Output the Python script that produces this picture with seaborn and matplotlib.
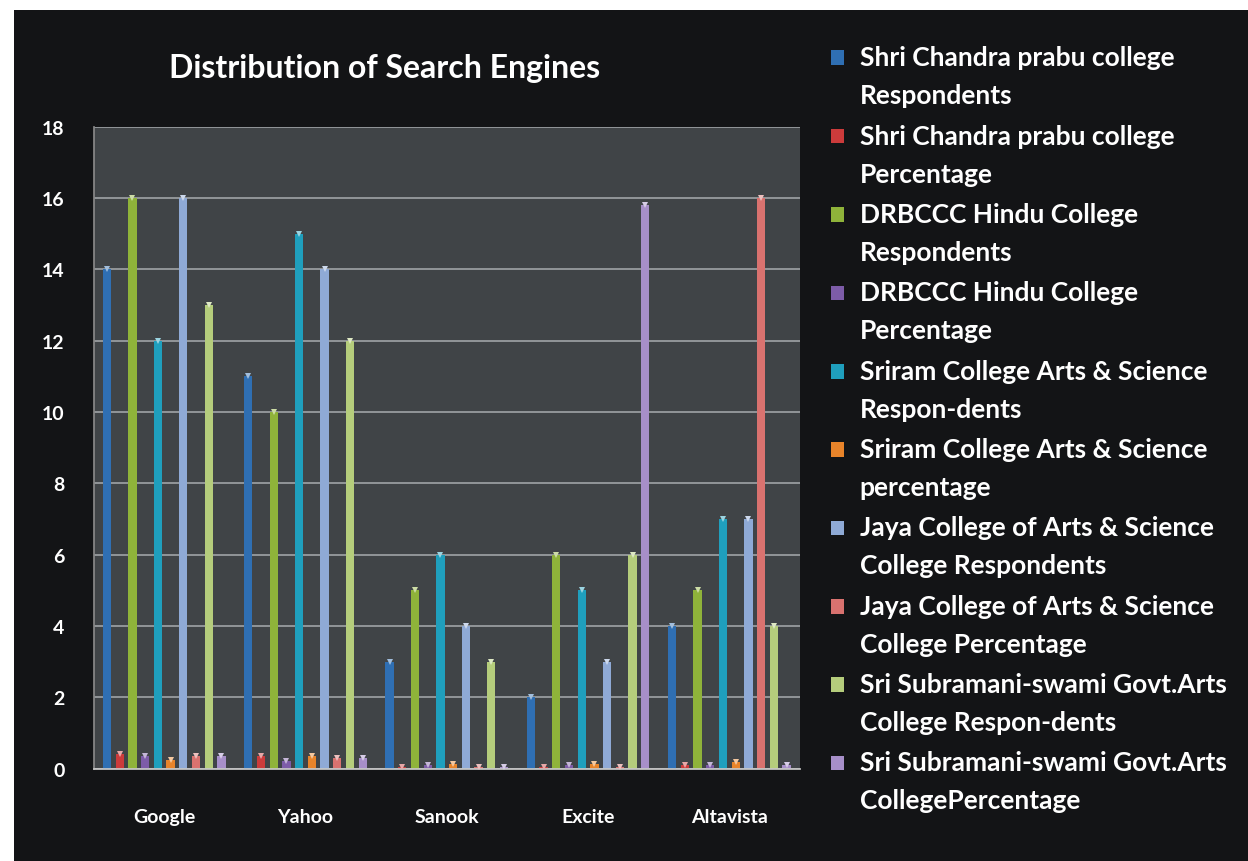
import pandas as pd
import matplotlib.pyplot as plt
import matplotlib.patches as mpatches
from matplotlib.legend_handler import HandlerPatch
from matplotlib.colors import to_rgb
import seaborn as sns

# Moteurs de recherche (axe des x)
engines = ["Google", "Yahoo", "Sanook", "Excite", "Altavista"]

# Séries (une par college / mesure)
series_names = [
    "Shri Chandra prabu college\nRespondents",
    "Shri Chandra prabu college\nPercentage",
    "DRBCCC Hindu College\nRespondents",
    "DRBCCC Hindu College\nPercentage",
    "Sriram College Arts & Science\nRespon-dents",
    "Sriram College Arts & Science\npercentage",
    "Jaya College of Arts & Science\nCollege Respondents",
    "Jaya College of Arts & Science\nCollege Percentage",
    "Sri Subramani-swami Govt.Arts\nCollege Respon-dents",
    "Sri Subramani-swami Govt.Arts\nCollegePercentage",
]

shri_resp = [14, 11, 3, 2, 4]
shri_pct = [0.42, 0.35, 0.06, 0.05, 0.1]
drbccc_resp = [16, 10, 5, 6, 5]
drbccc_pct = [0.35, 0.22, 0.1, 0.1, 0.1]
sriram_resp = [12, 15, 6, 5, 7]
sriram_pct = [0.25, 0.37, 0.12, 0.12, 0.18]
jaya_resp = [16, 14, 4, 3, 7]
jaya_pct = [0.35, 0.3, 0.05, 0.06, 16]
subra_resp = [13, 12, 3, 6, 4]
subra_pct = [0.35, 0.3, 0.05, 15.8, 0.1]

all_values = [shri_resp, shri_pct, drbccc_resp, drbccc_pct, sriram_resp,
              sriram_pct, jaya_resp, jaya_pct, subra_resp, subra_pct]

colors = ["#2f6fb3", "#cc3b3b", "#8fb33a", "#7d5ca8", "#1f9fbd",
          "#e8842a", "#8faad6", "#d9726f", "#b5cd7c", "#a78fc9"]

# Tableau long pour seaborn
rows = []
for name, vals in zip(series_names, all_values):
    for eng, v in zip(engines, vals):
        rows.append({"engine": eng, "serie": name, "value": v})
df = pd.DataFrame(rows)

sns.set_theme(style="dark")
plt.rcParams["font.family"] = ["Lato", "DejaVu Sans"]

fig = plt.figure(figsize=(12.48, 8.62), dpi=100, facecolor="white")
# fond noir du graphique (cadre blanc autour)
fig.patches.append(plt.Rectangle((0.011, 0.0), 0.989, 0.987, transform=fig.transFigure,
                                 facecolor="#131416", edgecolor="none", zorder=-1))

ax = fig.add_axes([0.075, 0.107, 0.566, 0.745])
ax.set_facecolor("#404447")

sns.barplot(data=df, x="engine", y="value", hue="serie", palette=colors,
            width=0.9, gap=0.35, ax=ax, legend=True, saturation=1,
            edgecolor="none")
xlim = ax.get_xlim()

# petit reflet triangulaire en haut de chaque barre (style Excel)
for bar in ax.patches:
    h = bar.get_height()
    if h <= 0:
        continue
    c = to_rgb(bar.get_facecolor())
    light = tuple(0.45 * ci + 0.55 for ci in c)
    ax.plot(bar.get_x() + bar.get_width() / 2, h, marker="v", markersize=4.5,
            color=light, markeredgewidth=0, clip_on=False, zorder=3)

ax.set_xlim(xlim)
ax.set_ylim(0, 18)
ax.set_yticks(range(0, 19, 2))
ax.grid(axis="y", color="#a0a3a6", linewidth=1.2)
ax.set_axisbelow(True)
ax.set_xlabel("")
ax.set_ylabel("")
for s in ax.spines.values():
    s.set_visible(False)
ax.spines["bottom"].set_visible(True)
ax.spines["bottom"].set_color("#c8c8c8")
ax.spines["left"].set_visible(True)
ax.spines["left"].set_color("#888888")

ax.tick_params(axis="y", colors="white", labelsize=14, pad=21, length=0)
ax.tick_params(axis="x", colors="white", labelsize=14, pad=28, length=0)
for lab in ax.get_yticklabels() + ax.get_xticklabels():
    lab.set_fontweight("bold")

fig.text(0.308, 0.921, "Distribution of Search Engines", color="white",
         fontsize=23, fontweight="bold", ha="center", va="center")


def carre_haut(legend, orig_handle, xdescent, ydescent, width, height, fontsize):
    # carré aligné avec la première ligne du libellé
    return mpatches.Rectangle((-xdescent, -ydescent + 0.72 * fontsize), width, height)


handles, labels = ax.get_legend_handles_labels()
ax.legend_.remove()
leg = fig.legend(handles, labels, loc="upper left", bbox_to_anchor=(0.647, 0.974),
                 frameon=False, labelcolor="white",
                 handlelength=0.48, handleheight=0.48, handletextpad=0.6,
                 labelspacing=0.62, prop={"weight": "bold", "size": 19},
                 handler_map={mpatches.Rectangle: HandlerPatch(patch_func=carre_haut)})
for t in leg.get_texts():
    t.set_linespacing(1.7)

fig.savefig("out.png", dpi=100, facecolor=fig.get_facecolor())
